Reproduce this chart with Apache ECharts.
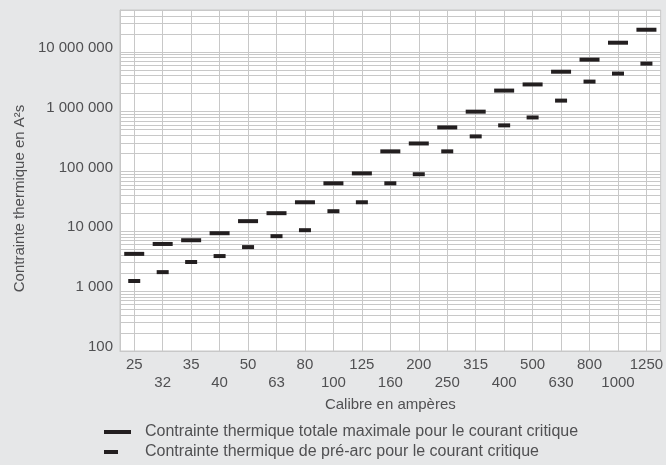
<!DOCTYPE html>
<html>
<head>
<meta charset="utf-8">
<script src="https://cdn.jsdelivr.net/npm/echarts@6/dist/echarts.min.js"></script>
<style>
  html, body { margin: 0; padding: 0; background: #e6e7e8; }
  #chart { width: 666px; height: 465px; }
</style>
</head>
<body>
<div id="chart"></div>
<script>
// Fuse ratings (A)
const calibres = ['25', '32', '35', '40', '50', '63', '80', '100', '125', '160',
                  '200', '250', '315', '400', '500', '630', '800', '1000', '1250'];

// Total maximum I²t at critical current (A²s)
const contrainteTotale = [4200, 6150, 7100, 9300, 14800, 20100, 30600, 63500, 93000, 217000,
                          294000, 545000, 1000000, 2250000, 2850000, 4650000, 7400000, 14200000, 23400000];

// Pre-arcing I²t at critical current (A²s)
const contraintePreArc = [1480, 2080, 3070, 3860, 5450, 8300, 10450, 21700, 30600, 63500,
                          90000, 217000, 386000, 590000, 800000, 1530000, 3180000, 4330000, 6350000];

// Intermediate log gridlines (2..9 × 10^n)
const minorGrid = [];
for (let e = 2; e <= 7; e++) {
  for (let k = 2; k <= 9; k++) {
    const v = k * Math.pow(10, e);
    if (v < 5e7) minorGrid.push(v);
  }
}

const labelTotale = 'Contrainte thermique totale maximale pour le courant critique';
const labelPreArc = 'Contrainte thermique de pré-arc pour le courant critique';

const FONT = '"Liberation Sans", Arial, Helvetica, sans-serif';
const TXT = '#505052';
const GRID = '#c8c8c8';

const fmtSpaces = v => String(Math.round(v)).replace(/\B(?=(\d{3})+(?!\d))/g, ' ');

const chart = echarts.init(document.getElementById('chart'), null, { renderer: 'canvas' });
chart.setOption({
  animation: false,
  backgroundColor: '#e6e7e8',
  textStyle: { fontFamily: FONT },
  grid: {
    left: 120, top: 10, width: 545, height: 341,
    show: true, backgroundColor: '#ffffff', borderColor: GRID, borderWidth: 1
  },
  legend: [
    {
      data: [labelTotale], left: 104, top: 424, padding: 0,
      icon: 'rect', itemWidth: 27, itemHeight: 4,
      textStyle: { fontSize: 16, color: TXT, fontFamily: FONT, padding: [0, 0, 0, 9] },
      selectedMode: false
    },
    {
      data: [labelPreArc], left: 104, top: 444, padding: 0,
      icon: 'rect', itemWidth: 14, itemHeight: 4,
      textStyle: { fontSize: 16, color: TXT, fontFamily: FONT, padding: [0, 0, 0, 22] },
      selectedMode: false
    }
  ],
  xAxis: {
    type: 'category',
    data: calibres,
    boundaryGap: true,
    name: 'Calibre en ampères',
    nameLocation: 'middle',
    nameGap: 42,
    nameTextStyle: { fontSize: 15, color: TXT, fontFamily: FONT },
    axisLine: { show: true, lineStyle: { color: GRID } },
    axisTick: { show: false },
    axisLabel: {
      interval: 0, fontSize: 15, color: TXT, fontFamily: FONT, margin: 5, lineHeight: 18,
      formatter: (v, i) => (i % 2 ? '\n' + v : v)
    },
    splitLine: { show: true, interval: 0, alignWithLabel: true, lineStyle: { color: GRID, width: 1 } }
  },
  yAxis: {
    type: 'log',
    logBase: 10,
    min: 100,
    max: 5e7,
    name: 'Contrainte thermique en A²s',
    nameLocation: 'middle',
    nameGap: 91,
    nameTextStyle: { fontSize: 15, color: TXT, fontFamily: FONT, padding: [0, 36, 0, 0] },
    axisLine: { show: true, lineStyle: { color: GRID } },
    axisTick: { show: false },
    axisLabel: {
      fontSize: 15, color: TXT, fontFamily: FONT, margin: 7,
      showMaxLabel: false, lineHeight: 8,
      formatter: v => fmtSpaces(v) + '\n'
    },
    splitLine: { show: true, lineStyle: { color: GRID, width: 1 } }
  },
  series: [
    {
      name: labelTotale,
      type: 'scatter',
      data: contrainteTotale,
      symbol: 'rect',
      symbolSize: [20, 4],
      itemStyle: { color: '#231f20', opacity: 1 },
      z: 5,
      markLine: {
        silent: true,
        symbol: 'none',
        label: { show: false },
        lineStyle: { color: GRID, type: 'solid', width: 1 },
        emphasis: { disabled: true },
        data: minorGrid.map(v => ({ yAxis: v })),
        z: 1
      }
    },
    {
      name: labelPreArc,
      type: 'scatter',
      data: contraintePreArc,
      symbol: 'rect',
      symbolSize: [12, 4],
      itemStyle: { color: '#231f20', opacity: 1 },
      z: 5
    }
  ]
});
</script>
</body>
</html>
